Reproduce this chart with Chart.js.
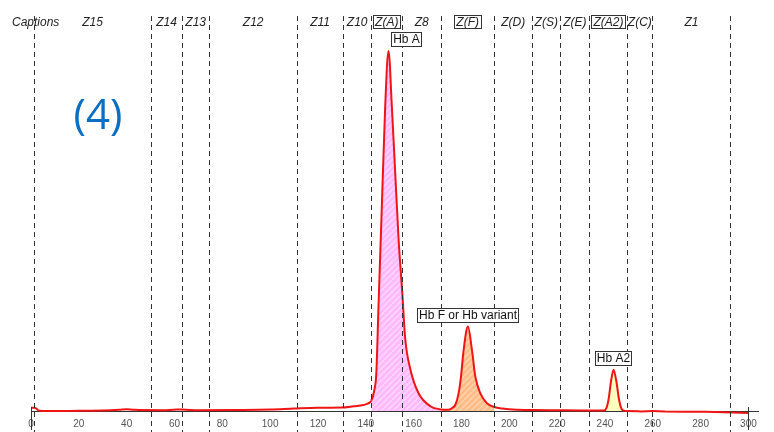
<!DOCTYPE html>
<html><head><meta charset="utf-8">
<script src="https://cdn.jsdelivr.net/npm/chart.js@4.4.1/dist/chart.umd.min.js"></script>
<style>html,body{margin:0;padding:0;background:#fff}#c{display:block}</style>
</head><body>
<canvas id="c" width="774" height="432"></canvas>
<script>
// ---- data ----
const retentionTime = [0, 1.5, 3.5, 8, 20, 30, 37, 40, 43, 55, 61, 63, 70, 85, 100, 110, 120, 130, 135, 139, 141,
  142.3, 143.5, 144.4, 145.3, 146.7, 148.1, 149.5, 150.9, 152.3, 153.7, 155.2, 156.5, 158.6, 162, 167, 171.5,
  174.5, 176, 177.4, 178.8, 179.8, 180.9, 182.7, 184.4, 185.8, 187.9, 190.7, 193.7, 197, 203, 210, 220, 230,
  233.5, 239.5, 240.6, 241.6, 242.5, 243.6, 244.8, 245.8, 246.8, 247.9, 249.4, 255, 265, 280, 290, 300];
const absorbance = [0.8, 0.8, 0.05, 0, 0.05, 0.1, 0.3, 0.45, 0.3, 0.2, 0.35, 0.35, 0.2, 0.25, 0.35, 0.6, 0.8, 0.85, 1.2, 1.5, 1.9,
  2.6, 5, 9.5, 26, 51, 76, 90, 76, 59.5, 43, 30, 18, 10.5, 4.5, 1.2, 0.4,
  0.3, 0.7, 1.5, 4.4, 8.6, 15.2, 21.1, 15.2, 8.6, 4.4, 1.9, 1.0, 0.6, 0.3, 0.25, 0.2, 0.15,
  0.1, 0.1, 0.7, 3.2, 7.3, 10.3, 7.3, 3.2, 0.7, 0.1, 0, -0.1, -0.1, -0.2, -0.3, -0.5];
const zoneBoundaries = [1.3, 50.2, 63.2, 74.5, 111.3, 130.5, 142.3, 155.2, 171.5, 193.7, 209.6, 221.3, 233.5, 249.4, 259.8, 292.5];
const zoneNames = ['Z15','Z14','Z13','Z12','Z11','Z10','Z(A)','Z8','Z(F)','Z(D)','Z(S)','Z(E)','Z(A2)','Z(C)','Z1'];
const boxedZones = ['Z(A)','Z(F)','Z(A2)'];
const peakNames = ['Hb A','Hb F or Hb variant','Hb A2'];
const peakTimes = [149.5, 182.7, 243.6];
const shadedFrom = [142.3, 171.5, 233.5];
const shadedTo = [171.5, 193.7, 249.4];
const xTickValues = [0,20,40,60,80,100,120,140,160,180,200,220,240,260,280,300];
const captionTitle = 'Captions';
const panelLabel = '(4)';

// ---- styles ----
const shadeBase = ['rgb(255,185,255)', 'rgb(255,188,135)', 'rgb(255,252,190)'];
const shadeStripe = ['rgb(255,215,255)', 'rgb(255,212,175)', 'rgb(255,252,190)'];
const peakAlign = ['left', 'center', 'center'];

function makePattern(base, stripe) {
  const p = document.createElement('canvas');
  p.width = 6; p.height = 6;
  const g = p.getContext('2d');
  g.fillStyle = base; g.fillRect(0, 0, 6, 6);
  g.strokeStyle = stripe; g.lineWidth = 1.5;
  g.beginPath();
  g.moveTo(-1, 7); g.lineTo(7, -1);
  g.moveTo(5, 7); g.lineTo(7, 5);
  g.moveTo(-1, 1); g.lineTo(1, -1);
  g.stroke();
  return g.createPattern(p, 'repeat');
}
const patterns = shadeBase.map((b, i) => makePattern(b, shadeStripe[i]));

function shadeFor(x) {
  for (let i = 0; i < shadedFrom.length; i++) {
    if (x >= shadedFrom[i] - 1e-6 && x < shadedTo[i] - 1e-6) return patterns[i];
  }
  return 'rgba(0,0,0,0)';
}

const points = retentionTime.map((t, i) => ({x: t, y: absorbance[i]}));

const overlay = {
  id: 'overlay',
  afterDatasetsDraw(chart) {
    const ctx = chart.ctx;
    const xs = chart.scales.x, ys = chart.scales.y;
    ctx.save();
    // zone boundaries
    ctx.strokeStyle = '#333';
    ctx.lineWidth = 1;
    ctx.setLineDash([5, 4]);
    zoneBoundaries.forEach(b => {
      const px = Math.round(xs.getPixelForValue(b)) + 0.5;
      ctx.beginPath(); ctx.moveTo(px, 16); ctx.lineTo(px, 432); ctx.stroke();
    });
    ctx.setLineDash([]);
    // start / end markers
    [retentionTime[0], retentionTime[retentionTime.length - 1]].forEach(t => {
      const px = Math.round(xs.getPixelForValue(t)) + 0.5;
      ctx.beginPath(); ctx.moveTo(px, ys.getPixelForValue(0) - 4); ctx.lineTo(px, 430); ctx.stroke();
    });
    // captions row
    ctx.font = 'italic 12px "Liberation Sans", Arial, sans-serif';
    ctx.fillStyle = '#222';
    ctx.textBaseline = 'middle';
    ctx.textAlign = 'left';
    ctx.fillText(captionTitle, 12, 22.5);
    ctx.textAlign = 'center';
    zoneNames.forEach((n, i) => {
      const cx = xs.getPixelForValue((zoneBoundaries[i] + zoneBoundaries[i + 1]) / 2);
      const w = ctx.measureText(n).width;
      if (boxedZones.includes(n)) {
        ctx.fillStyle = '#fff';
        ctx.fillRect(cx - w / 2 - 2, 15.5, w + 4, 13);
        ctx.strokeStyle = '#333';
        ctx.strokeRect(Math.round(cx - w / 2 - 2) + 0.5, 15.5, Math.round(w + 4), 13);
        ctx.fillStyle = '#222';
      }
      ctx.fillText(n, cx, 22.5);
    });
    // peak labels
    ctx.font = '12px "Liberation Sans", Arial, sans-serif';
    peakNames.forEach((n, i) => {
      let best = 0;
      retentionTime.forEach((t, j) => { if (Math.abs(t - peakTimes[i]) < Math.abs(retentionTime[best] - peakTimes[i])) best = j; });
      const px = xs.getPixelForValue(peakTimes[i]);
      const py = ys.getPixelForValue(absorbance[best]);
      const w = ctx.measureText(n).width + 3;
      const h = 14;
      const left = peakAlign[i] === 'left' ? px + 2 : px - w / 2;
      const bottom = py - 5;
      const L = Math.round(left) + 0.5, T = Math.round(bottom - h) + 0.5;
      ctx.fillStyle = '#fff';
      ctx.fillRect(L, T, Math.round(w), h);
      ctx.strokeStyle = '#333';
      ctx.strokeRect(L, T, Math.round(w), h);
      ctx.fillStyle = '#111';
      ctx.textAlign = 'center';
      ctx.fillText(n, L + Math.round(w) / 2, T + h / 2 + 0.5);
    });
    // panel label
    ctx.font = '42px "Open Sans", sans-serif';
    ctx.fillStyle = '#0a6fc2';
    ctx.textAlign = 'center';
    ctx.textBaseline = 'alphabetic';
    ctx.fillText(panelLabel, 98, 129);
    ctx.restore();
  }
};

new Chart(document.getElementById('c'), {
  type: 'line',
  data: {
    datasets: [{
      data: points,
      borderColor: '#f01414',
      borderWidth: 2,
      pointRadius: 0,
      cubicInterpolationMode: 'monotone',
      fill: 'origin',
      backgroundColor: 'rgba(0,0,0,0)',
      clip: false,
      segment: {
        backgroundColor: c => shadeFor(c.p0.parsed.x)
      }
    }]
  },
  options: {
    responsive: false,
    animation: false,
    events: [],
    layout: {padding: {left: 31, right: 16, top: 11, bottom: 0}},
    plugins: {legend: {display: false}, tooltip: {enabled: false}, title: {display: false}},
    scales: {
      x: {
        type: 'linear', min: 0, max: 304,
        grid: {display: false, drawTicks: false},
        border: {display: true, color: '#333', width: 1},
        afterBuildTicks: s => { s.ticks = xTickValues.map(v => ({value: v})); },
        afterFit: s => { s.height = 21; },
        ticks: {font: {size: 10, family: '"Liberation Sans", Arial, sans-serif'}, color: '#555', padding: 7, maxRotation: 0, autoSkip: false}
      },
      y: {display: false, min: 0, max: 100}
    }
  },
  plugins: [overlay]
});
</script>
</body></html>
